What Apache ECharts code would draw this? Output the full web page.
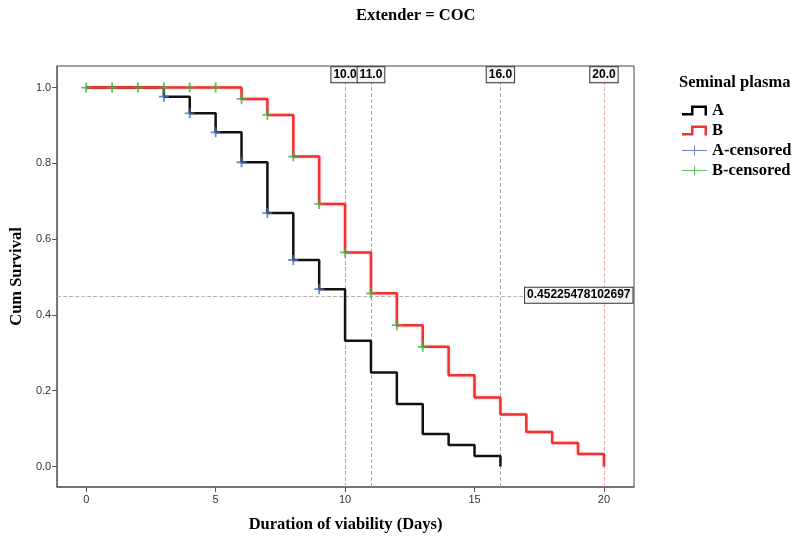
<!DOCTYPE html>
<html><head><meta charset="utf-8">
<script src="https://cdn.jsdelivr.net/npm/echarts@6/dist/echarts.min.js"></script>
<style>html,body{margin:0;padding:0;background:#fff}#c{width:792px;height:539px}</style>
</head><body><div id="c"></div>
<script>
// ---- data ----
const timeA = [0, 3, 4, 5, 6, 7, 8, 9, 10, 11, 12, 13, 14, 15, 16];
const survA = [1, 0.976, 0.932, 0.882, 0.803, 0.669, 0.545, 0.468, 0.332, 0.248, 0.165, 0.086, 0.057, 0.028, 0];
const timeB = [0, 6, 7, 8, 9, 10, 11, 12, 13, 14, 15, 16, 17, 18, 19, 20];
const survB = [1, 0.970, 0.928, 0.818, 0.693, 0.565, 0.457, 0.373, 0.316, 0.241, 0.182, 0.137, 0.091, 0.062, 0.033, 0];
const censorTimeA = [3, 4, 5, 6, 7, 8, 9];
const censorSurvA = [0.976, 0.932, 0.882, 0.803, 0.669, 0.545, 0.468];
const censorTimeB = [0, 1, 2, 3, 4, 5, 6, 7, 8, 9, 10, 11, 12, 13];
const censorSurvB = [1, 1, 1, 1, 1, 1, 0.970, 0.928, 0.818, 0.693, 0.565, 0.457, 0.373, 0.316];
const xTicks = [0, 5, 10, 15, 20];
const yTicks = [0, 0.2, 0.4, 0.6, 0.8, 1.0];
const refX = [10, 11, 16, 20];
const refXLabels = ['10.0', '11.0', '16.0', '20.0'];
const refY = 0.45225478102697;
const refYLabel = '0.45225478102697';

// ---- layout ----
const xMin = -1.12, xMax = 21.16, yMin = -0.054, yMax = 1.057;
const serif = 'Liberation Serif', sans = 'Liberation Sans';
const zip = (a, b) => a.map((v, i) => [v, b[i]]);

const stepIcon = 'path://M0,10 L0,7.5 L9,7.5 L9,0 L25,0 L25,10 L22.5,10 L22.5,2.5 L11.5,2.5 L11.5,10 Z';
const plusIcon = 'path://M0,4.5 L25,4.5 L25,5.5 L0,5.5 Z M12,0 L13,0 L13,10 L12,10 Z';
const plusSym = 'path://M4.1,0 L5.9,0 L5.9,4.1 L10,4.1 L10,5.9 L5.9,5.9 L5.9,10 L4.1,10 L4.1,5.9 L0,5.9 L0,4.1 L4.1,4.1 Z';

const boxLabel = {
  show: true, formatter: '{b}', fontFamily: sans, fontWeight: 'bold', fontSize: 12, color: '#000',
  backgroundColor: '#f6f6f6', borderColor: '#333', borderWidth: 1, padding: [2, 2, 1, 2]
};

const refLineData = refX.map((x, i) => [
  { coord: [x, yMin], lineStyle: { color: x === 20 ? '#f4a3a3' : '#aaaaaa', type: 'dashed', width: 1 } },
  { coord: [x, 1.012] }
]);
refLineData.push({ yAxis: refY, lineStyle: { color: '#b5b5b5', type: 'dashed', width: 1 } });

const markPts = refX.map((x, i) => ({ name: refXLabels[i], coord: [x, 1.034], label: Object.assign({}, boxLabel, { position: 'inside' }) }));
markPts.push({ name: refYLabel, coord: [xMax, refY], label: Object.assign({}, boxLabel, { position: 'left', distance: 1 }) });

const chart = echarts.init(document.getElementById('c'), null, { renderer: 'canvas' });
chart.setOption({
  animation: false,
  backgroundColor: '#fff',
  graphic: [
    { type: 'text', left: 356, top: 7, style: { text: 'Extender = COC', font: 'bold 16.5px "Liberation Serif"', fill: '#000' } },
    { type: 'text', left: 679, top: 74, style: { text: 'Seminal plasma', font: 'bold 16.5px "Liberation Serif"', fill: '#000' } }
  ],
  grid: { left: 57, top: 66, width: 577, height: 421, show: true, borderColor: '#444', borderWidth: 1, containLabel: false },
  legend: {
    orient: 'vertical', left: 677, top: 97, itemWidth: 25, itemHeight: 10, itemGap: 3,
    textStyle: { fontFamily: serif, fontWeight: 'bold', fontSize: 16.5, lineHeight: 16, color: '#000' },
    data: [
      { name: 'A', icon: stepIcon },
      { name: 'B', icon: stepIcon },
      { name: 'A-censored', icon: plusIcon },
      { name: 'B-censored', icon: plusIcon }
    ]
  },
  xAxis: {
    type: 'value', min: xMin, max: xMax,
    name: 'Duration of viability (Days)', nameLocation: 'middle', nameGap: 29,
    nameTextStyle: { fontFamily: serif, fontWeight: 'bold', fontSize: 16.5, color: '#000' },
    axisLine: { onZero: false, lineStyle: { color: '#666', width: 1.5 } },
    axisTick: { show: true, customValues: xTicks, length: 5, lineStyle: { color: '#555' } },
    axisLabel: { customValues: xTicks, fontFamily: sans, fontSize: 11, color: '#333', margin: 7 },
    splitLine: { show: false }
  },
  yAxis: {
    type: 'value', min: yMin, max: yMax,
    name: 'Cum Survival', nameLocation: 'middle', nameGap: 31, nameRotate: 90,
    nameTextStyle: { fontFamily: serif, fontWeight: 'bold', fontSize: 16.5, color: '#000' },
    axisLine: { show: true, onZero: false, lineStyle: { color: '#666', width: 1.5 } },
    axisTick: { show: true, customValues: yTicks, length: 5, lineStyle: { color: '#555' } },
    axisLabel: { customValues: yTicks, formatter: v => v.toFixed(1), fontFamily: sans, fontSize: 11, color: '#333', margin: 6 },
    splitLine: { show: false }
  },
  series: [
    {
      name: 'A', type: 'line', step: 'end', data: zip(timeA, survA), symbol: 'none', color: '#000',
      lineStyle: { color: '#111', width: 2.5 }, z: 3,
      markLine: { silent: true, symbol: ['none', 'none'], label: { show: false }, data: refLineData, z: 1 },
      markPoint: { silent: true, symbol: 'circle', symbolSize: 1, itemStyle: { color: 'rgba(0,0,0,0)' }, data: markPts, z: 10 }
    },
    {
      name: 'B', type: 'line', step: 'end', data: zip(timeB, survB), symbol: 'none', color: '#f03232',
      lineStyle: { color: '#f03232', width: 2.5, shadowColor: 'rgba(255,80,80,0.45)', shadowBlur: 2 }, z: 4
    },
    {
      name: 'A-censored', type: 'scatter', data: zip(censorTimeA, censorSurvA), symbol: plusSym, symbolSize: 10,
      color: '#4a68c0', itemStyle: { color: '#4a68c0' }, z: 5
    },
    {
      name: 'B-censored', type: 'scatter', data: zip(censorTimeB, censorSurvB), symbol: plusSym, symbolSize: 10,
      color: '#3cb043', itemStyle: { color: '#3cb043' }, z: 6
    }
  ]
});
</script></body></html>
